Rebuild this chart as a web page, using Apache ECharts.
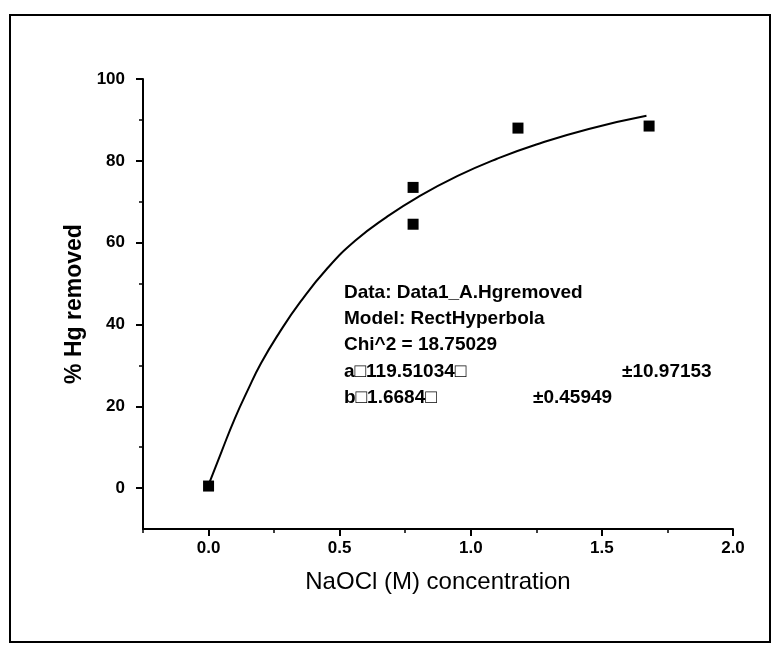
<!DOCTYPE html>
<html>
<head>
<meta charset="utf-8">
<script src="https://cdn.jsdelivr.net/npm/echarts@6/dist/echarts.min.js"></script>
<style>
  html, body { margin: 0; padding: 0; background: #fff; }
  #chart { width: 781px; height: 653px; }
</style>
</head>
<body>
<div id="chart"></div>
<script>
// Measured removal points
const naoclConc = [0.0, 0.78, 0.78, 1.18, 1.68];
const hgRemoved = [0.5, 73.5, 64.5, 88, 88.5];

// Fitted rectangular hyperbola
const fitConc = [0, 0.05, 0.10, 0.15, 0.20, 0.27, 0.35, 0.45, 0.56, 0.68, 0.80, 0.95, 1.10, 1.25, 1.45, 1.67];
const fitRemoved = [0.8, 9, 17, 24, 30.5, 38, 45.5, 53.5, 60.5, 66.3, 71.2, 76.3, 80.5, 84, 87.8, 91];

// Axis tick positions
const xMajorTicks = [0, 0.5, 1.0, 1.5, 2.0];
const xMinorTicks = [-0.25, 0.25, 0.75, 1.25, 1.75];
const yMajorTicks = [0, 20, 40, 60, 80, 100];
const yMinorTicks = [10, 30, 50, 70, 90];

// Fit report lines
const fitReport = [
  'Data: Data1_A.Hgremoved',
  'Model: RectHyperbola',
  'Chi^2 = 18.75029',
  'a\u25A1119.51034\u25A1',
  'b\u25A11.6684\u25A1'
];
const fitErrors = ['\u00B110.97153', '\u00B10.45949'];

const chart = echarts.init(document.getElementById('chart'));
const FONT = 'Liberation Sans, Arial, sans-serif';

const baseX = {
  type: 'value', min: -0.25, max: 2.0,
  splitLine: { show: false }
};
const baseY = {
  type: 'value', min: -10, max: 100,
  splitLine: { show: false }
};

chart.setOption({
  backgroundColor: '#fff',
  animation: false,
  grid: { left: 143, right: 48, top: 79, bottom: 124 },
  xAxis: [
    Object.assign({}, baseX, {
      axisLine: { show: true, onZero: false, lineStyle: { color: '#000', width: 2 } },
      axisTick: { show: true, inside: false, length: 7, customValues: xMajorTicks, lineStyle: { color: '#000', width: 2 } },
      axisLabel: {
        customValues: xMajorTicks, margin: 11, color: '#000', fontSize: 17, fontWeight: 'bold', fontFamily: FONT,
        formatter: v => v.toFixed(1)
      },
      name: 'NaOCl (M) concentration', nameLocation: 'middle', nameGap: 41,
      nameTextStyle: { color: '#000', fontSize: 24, fontFamily: FONT }
    }),
    Object.assign({}, baseX, {
      position: 'bottom',
      axisLine: { show: false, onZero: false },
      axisTick: { show: true, length: 4, customValues: xMinorTicks, lineStyle: { color: '#000', width: 1.5 } },
      axisLabel: { show: false }
    })
  ],
  yAxis: [
    Object.assign({}, baseY, {
      axisLine: { show: true, onZero: false, lineStyle: { color: '#000', width: 2 } },
      axisTick: { show: true, inside: false, length: 7, customValues: yMajorTicks, lineStyle: { color: '#000', width: 2 } },
      axisLabel: {
        customValues: yMajorTicks, margin: 18, color: '#000', fontSize: 17, fontWeight: 'bold', fontFamily: FONT
      },
      name: '% Hg removed', nameLocation: 'middle', nameGap: 55, nameRotate: 90,
      nameTextStyle: { color: '#000', fontSize: 23, fontWeight: 'bold', fontFamily: FONT }
    }),
    Object.assign({}, baseY, {
      position: 'left',
      axisLine: { show: false, onZero: false },
      axisTick: { show: true, length: 4, customValues: yMinorTicks, lineStyle: { color: '#000', width: 1.5 } },
      axisLabel: { show: false }
    })
  ],
  series: [
    {
      type: 'line',
      data: fitConc.map((x, i) => [x, fitRemoved[i]]),
      smooth: true,
      showSymbol: false,
      lineStyle: { color: '#000', width: 2 },
      silent: true
    },
    {
      type: 'scatter',
      data: naoclConc.map((x, i) => [x, hgRemoved[i]]),
      symbol: 'rect',
      symbolSize: 11,
      itemStyle: { color: '#000', opacity: 1 }
    }
  ],
  graphic: [
    {
      type: 'rect', shape: { x: 10, y: 15, width: 760, height: 627 },
      style: { fill: 'none', stroke: '#000', lineWidth: 2 }, silent: true
    }
  ].concat(fitReport.map((t, i) => ({
    type: 'text', left: 344, top: 283 + i * 26.3,
    style: { text: t, fill: '#000', font: 'bold 19px ' + FONT }
  }))).concat([
    { type: 'text', left: 622, top: 362, style: { text: fitErrors[0], fill: '#000', font: 'bold 19px ' + FONT } },
    { type: 'text', left: 533, top: 388, style: { text: fitErrors[1], fill: '#000', font: 'bold 19px ' + FONT } }
  ])
});
</script>
</body>
</html>
